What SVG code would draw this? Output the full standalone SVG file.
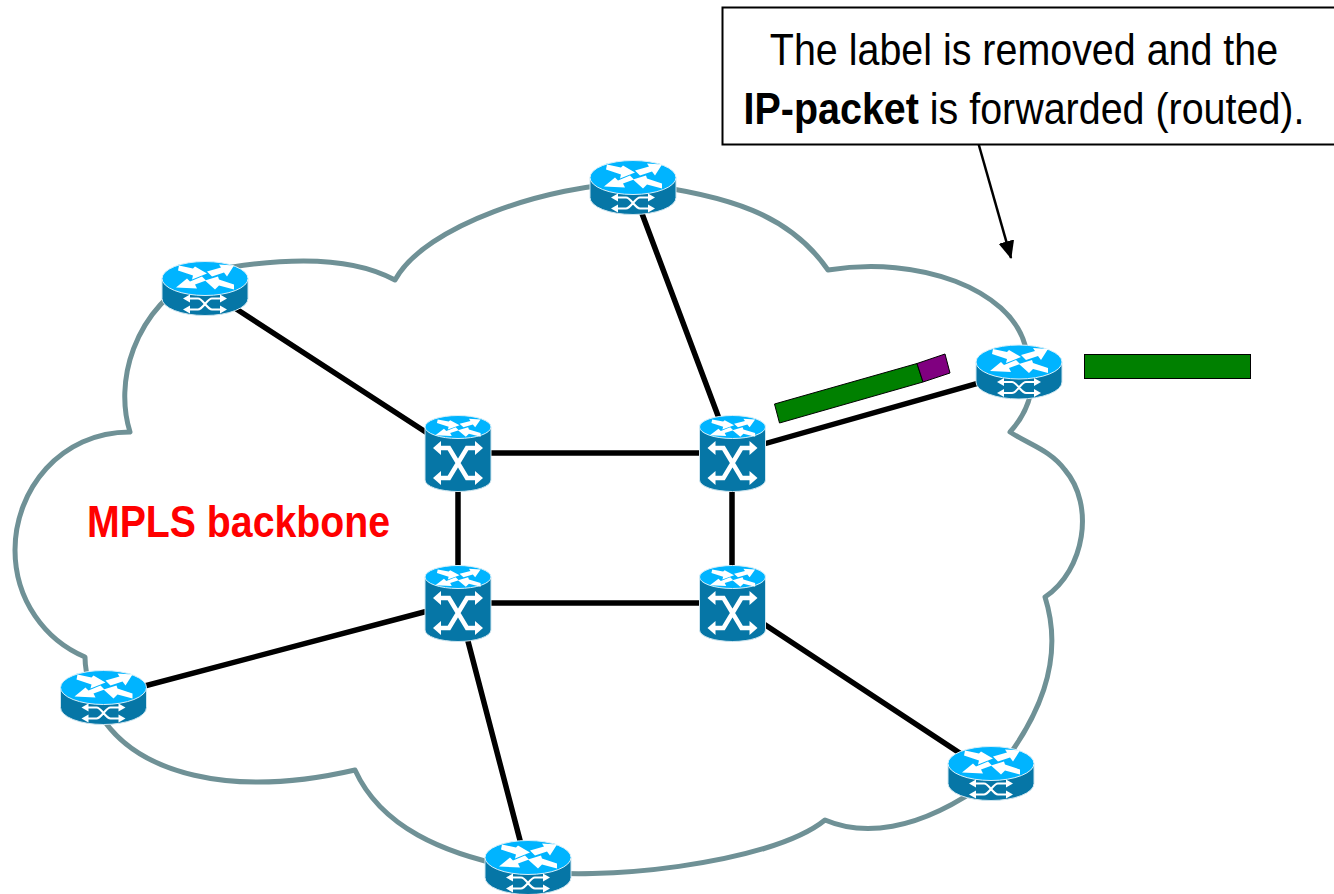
<svg xmlns="http://www.w3.org/2000/svg" xmlns:xlink="http://www.w3.org/1999/xlink" width="1334" height="894" viewBox="0 0 1334 894">
<style>
.cloud{fill:none;stroke:#6f9196;stroke-width:5;stroke-linecap:round;stroke-linejoin:round}
.link{stroke:#000;stroke-width:5.500;fill:none}
.body{fill:#0676a6;stroke:#cfe6f0;stroke-width:1}
.top{fill:#00b4ff;stroke:#d8f0fa;stroke-width:1}
.glyph{fill:#fff;stroke:none}
.thin{fill:none;stroke:#fff;stroke-width:2}
.txt{font-family:"Liberation Sans",Arial,sans-serif;fill:#000;font-size:44px;text-anchor:middle}
.pkt{stroke:#000;stroke-width:1}
</style>
<defs>
<marker id="ah" markerUnits="userSpaceOnUse" markerWidth="19" markerHeight="18" refX="17" refY="8" orient="auto"><path d="M0 0L18 8L0 16Z" fill="#000"/></marker>
<g id="arrows4">
<path class="glyph" d="M-26-23L-12-20L-10-22L2-15L-13-9L-12-13L-27-18Z"/>
<path class="glyph" d="M29-23L14-24L16-21L2-17L7-12L19-16L22-12Z"/>
<path class="glyph" d="M-29-1L-18-10L-15-7L-3-12L1-8L-10-4L-8 0Z"/>
<path class="glyph" d="M0-8L13-12L14-9L29-4L29 1L14-3L10 1Z"/>
</g>
<g id="router">
<path class="body" d="M-43-10V10A43 17 0 0 0 43 10V-10Z"/>
<ellipse class="top" cx="0" cy="-10" rx="43" ry="17"/>
<use xlink:href="#arrows4" href="#arrows4"/>
<path class="thin" d="M-16 10H-7C-2 10 2 21 7 21H16M-16 21H-7C-2 21 2 10 7 10H16"/>
<path class="glyph" d="M-22 10L-15 6V14ZM22 10L15 6V14ZM-22 21L-15 17V25ZM22 21L15 17V25Z"/>
</g>
<g id="switch">
<path class="body" d="M-33-26V27A33 11.500 0 0 0 33 27V-26Z"/>
<ellipse class="top" cx="0" cy="-26" rx="33" ry="11.500"/>
<g transform="translate(0,-17) scale(.78,.72)"><use xlink:href="#arrows4" href="#arrows4"/></g>
<path d="M-18-5H-9L9 25H18M18-5H9L-9 25H-18" fill="none" stroke="#fff" stroke-width="4.500"/>
<path class="glyph" d="M-25-5L-17-12V2ZM25-5L17-12V2ZM-25 25L-17 18V32ZM25 25L17 18V32Z"/>
</g>
</defs>
<path id="cloud" class="cloud" d="M632 183C550 185 425 225 395 280C355 258 290 255 204 272C130 310 115 385 130 432C60 432 15 490 15 550C15 600 45 640 85 657C85 680 95 700 105 722C140 770 225 800 355 770C380 825 440 855 527 870C590 882 770 865 825 820C860 835 915 835 990 780C1040 720 1065 660 1045 597C1085 570 1095 505 1065 470C1050 450 1030 445 1010 432C1030 410 1040 380 1025 345C1010 290 920 255 828 270C790 215 730 195 632 183"/>
<g id="connectors">
<path class="link" d="M204 288L458 453M632 187L732 453M458 453H732M458 453V603M732 453V603M458 603H732M103 697L458 603M458 603L527 867M732 603L990 773M732 453L1018 372"/>
<path d="M978 142L1011 258" stroke="#000" stroke-width="2.500" fill="none" marker-end="url(#ah)"/>
</g>
<g id="r1"><use xlink:href="#router" href="#router" x="205" y="288.500"/></g>
<g id="r2"><use xlink:href="#router" href="#router" x="633" y="187.500"/></g>
<g id="r3"><use xlink:href="#router" href="#router" x="1019" y="372"/></g>
<g id="r4"><use xlink:href="#router" href="#router" x="103.500" y="697.500"/></g>
<g id="r5"><use xlink:href="#router" href="#router" x="991" y="773.500"/></g>
<g id="r6"><use xlink:href="#router" href="#router" x="528" y="867.500"/></g>
<g id="s1"><use xlink:href="#switch" href="#switch" x="458" y="453"/></g>
<g id="s2"><use xlink:href="#switch" href="#switch" x="732.500" y="453"/></g>
<g id="s3"><use xlink:href="#switch" href="#switch" x="458" y="603"/></g>
<g id="s4"><use xlink:href="#switch" href="#switch" x="732.500" y="603"/></g>
<g id="packet-labeled">
<path class="pkt" d="M774.500 404L917 363.500L923 382L779.500 423Z" fill="#008000"/>
<path class="pkt" d="M917 363.500L945 354L950 373L923 382Z" fill="#800080"/>
</g>
<rect id="packet" class="pkt" x="1084.500" y="354.500" width="166" height="24" fill="#008000"/>
<g id="callout">
<rect x="722.500" y="7.500" width="620" height="137" fill="#fff" stroke="#000" stroke-width="2"/>
<text class="txt" transform="translate(1024,65) scale(.896,1)">The label is removed and the</text>
<text class="txt" transform="translate(1024,124) scale(.896,1)"><tspan font-weight="bold">IP-packet</tspan> is forwarded (routed).</text>
</g>
<text id="backbone" transform="translate(238.500,537) scale(.892,1)" font-family="'Liberation Sans',Arial,sans-serif" font-weight="bold" font-size="44" fill="#ff0000" text-anchor="middle">MPLS backbone</text>
</svg>
